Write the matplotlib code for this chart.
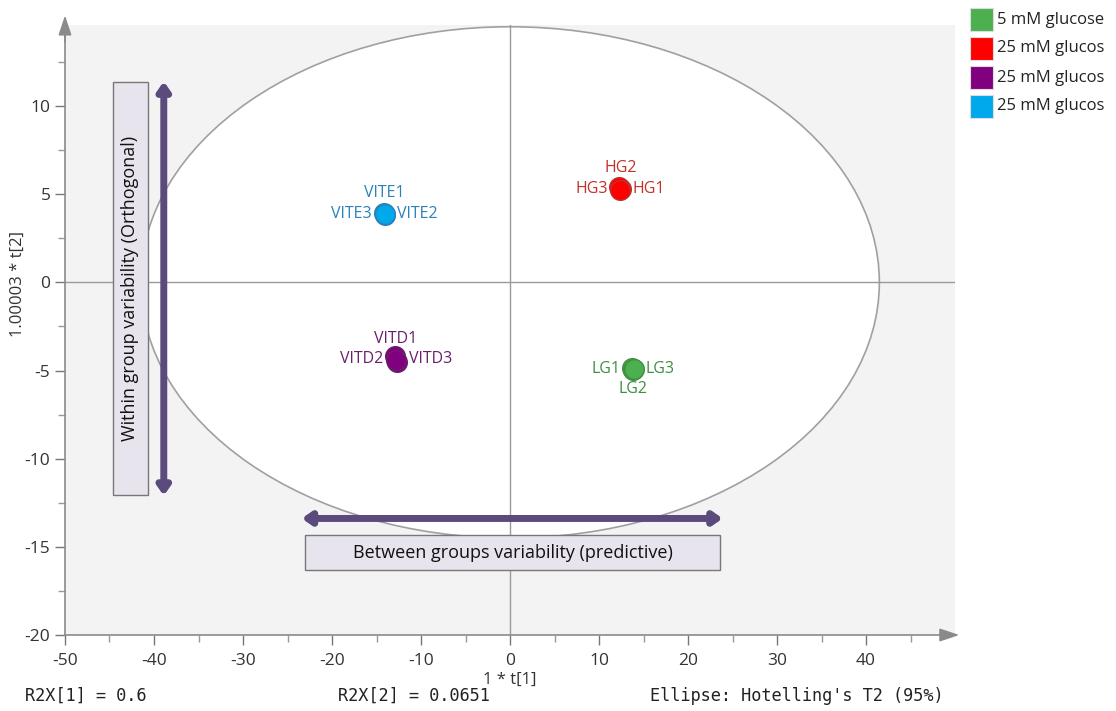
import matplotlib
matplotlib.use("Agg")
import matplotlib.pyplot as plt
from matplotlib.patches import Ellipse, Rectangle
import numpy as np

plt.rcParams['font.family'] = ['Open Sans', 'DejaVu Sans']
plt.rcParams['axes.unicode_minus'] = False

# ---- data ----
groups = ["5 mM glucose", "25 mM glucos", "25 mM glucos", "25 mM glucos"]
group_colors = ["#4caf50", "#ff0000", "#800080", "#00a8ec"]
label_colors = ["#3f8f3f", "#c0302c", "#6a1f6a", "#2a82b8"]

sample_names = [["LG1", "LG2", "LG3"],
                ["HG1", "HG2", "HG3"],
                ["VITD1", "VITD2", "VITD3"],
                ["VITE1", "VITE2", "VITE3"]]
t1 = [[13.7, 13.8, 13.9],
      [12.5, 12.3, 12.4],
      [-12.9, -12.7, -12.8],
      [-14.2, -14.0, -14.1]]
t2 = [[-4.85, -4.95, -4.9],
      [5.3, 5.4, 5.25],
      [-4.2, -4.5, -4.4],
      [3.95, 3.8, 3.9]]
# label placement relative to point: 'l','r','t','b'
label_side = [["l", "b", "r"],
              ["r", "t", "l"],
              ["t", "l", "r"],
              ["t", "r", "l"]]

ellipse_a, ellipse_b = 41.5, 14.5
xticks = [-50, -40, -30, -20, -10, 0, 10, 20, 30, 40]
yticks = [-20, -15, -10, -5, 0, 5, 10]

fig = plt.figure(figsize=(11.16, 7.11), dpi=100)
ax = fig.add_axes([65/1116, 76/711, 890/1116, 610/711])
ax.set_xlim(-50, 50)
ax.set_ylim(-20, 14.6)
ax.set_facecolor("#f3f3f3")

for s in ["top", "right"]:
    ax.spines[s].set_visible(False)
for s in ["left", "bottom"]:
    ax.spines[s].set_color("#8a8a8a")
    ax.spines[s].set_linewidth(1.2)

ax.set_xticks(xticks)
ax.set_xticks(np.arange(-45, 50, 10), minor=True)
ax.set_yticks(yticks)
ax.set_yticks(np.arange(-17.5, 14, 5), minor=True)
ax.tick_params(axis="both", which="major", colors="#777777", labelcolor="#333333", labelsize=12.5, length=7, width=1)
ax.tick_params(axis="both", which="minor", length=5, width=1, color="#999999")
ax.tick_params(axis="x", which="major", pad=6)

# arrows on axes
ax.annotate("", xy=(-50, 15.3), xytext=(-50, 13.5), annotation_clip=False,
            arrowprops=dict(arrowstyle="-|>,head_length=1.2,head_width=0.4", color="#8a8a8a", lw=1.2))
ax.annotate("", xy=(50.8, -20), xytext=(48.5, -20), annotation_clip=False,
            arrowprops=dict(arrowstyle="-|>,head_length=1.2,head_width=0.4", color="#8a8a8a", lw=1.2))

# zero lines
ax.axhline(0, color="#9a9a9a", lw=1, zorder=1)
ax.axvline(0, color="#9a9a9a", lw=1, zorder=1)

# ellipse
ax.add_patch(Ellipse((0, 0), 2*ellipse_a, 2*ellipse_b, facecolor="white", edgecolor="#a0a0a0", lw=1.2, zorder=0.5))

# points and labels
offs = {"l": (-9, 0, "right", "center"), "r": (9, 0, "left", "center"),
        "t": (0, 9, "center", "bottom"), "b": (0, -9, "center", "top")}
for g in range(len(groups)):
    ax.scatter(t1[g], t2[g], s=200, color=group_colors[g], edgecolors=label_colors[g],
               linewidths=1, zorder=5)
    cx, cy = np.mean(t1[g]), np.mean(t2[g])
    for name, side in zip(sample_names[g], label_side[g]):
        dx, dy, ha, va = offs[side]
        ax.annotate(name, (cx, cy), xytext=(dx, dy), textcoords="offset points",
                    ha=ha, va=va, color=label_colors[g], fontsize=11.5, zorder=6)

# annotation boxes and arrows
purple = "#5b4a7c"
ax.add_patch(Rectangle((-44.6, -12.08), 3.9, 23.43, facecolor="#e8e4ee", edgecolor="#777777", lw=1, zorder=3))
ax.text(-42.65, -0.35, "Within group variability (Orthogonal)", rotation=90, ha="center", va="center",
        fontsize=13, color="#111111", zorder=4)
ax.annotate("", xy=(-38.9, 11.4), xytext=(-38.9, -12.1),
            arrowprops=dict(arrowstyle="<|-|>,head_length=0.5,head_width=0.35", color=purple, lw=5,
                            shrinkA=0, shrinkB=0), zorder=4)
ax.add_patch(Rectangle((-23.0, -16.33), 46.6, 1.98, facecolor="#e8e4ee", edgecolor="#777777", lw=1, zorder=3))
ax.text(0.3, -15.34, "Between groups variability (predictive)", ha="center", va="center",
        fontsize=13, color="#111111", zorder=4)
ax.annotate("", xy=(-23.4, -13.39), xytext=(23.9, -13.39),
            arrowprops=dict(arrowstyle="<|-|>,head_length=0.5,head_width=0.35", color=purple, lw=5,
                            shrinkA=0, shrinkB=0), zorder=4)

# axis labels
narrow = ["Liberation Sans Narrow", "Open Sans", "DejaVu Sans"]
fig.text(510/1116, 1-680/711, "1 * t[1]", ha="center", va="center", fontsize=12, family=narrow, color="#333333")
fig.text(18/1116, 1-284/711, "1.00003 * t[2]", ha="center", va="center", rotation=90, fontsize=12,
         family=narrow, color="#333333")

# footer
mono = ["DejaVu Sans Mono"]
fig.text(25/1116, 1-696/711, "R2X[1] = 0.6", family=mono, fontsize=12.2, va="center", color="#222222")
fig.text(338/1116, 1-696/711, "R2X[2] = 0.0651", family=mono, fontsize=12.2, va="center", color="#222222")
fig.text(650/1116, 1-696/711, "Ellipse: Hotelling's T2 (95%)", family=mono, fontsize=12.2, va="center", color="#222222")

# legend
for i, (lab, col) in enumerate(zip(groups, group_colors)):
    y0 = 8 + 29*i
    fig.patches.append(Rectangle((970/1116, 1-(y0+23)/711), 23/1116, 23/711, transform=fig.transFigure,
                                 facecolor=col, edgecolor="#dddddd", lw=0.8))
    fig.text(997/1116, 1-(y0+11.5)/711, lab, fontsize=12, va="center", ha="left", color="#222222")

fig.savefig("out.png", dpi=100)
